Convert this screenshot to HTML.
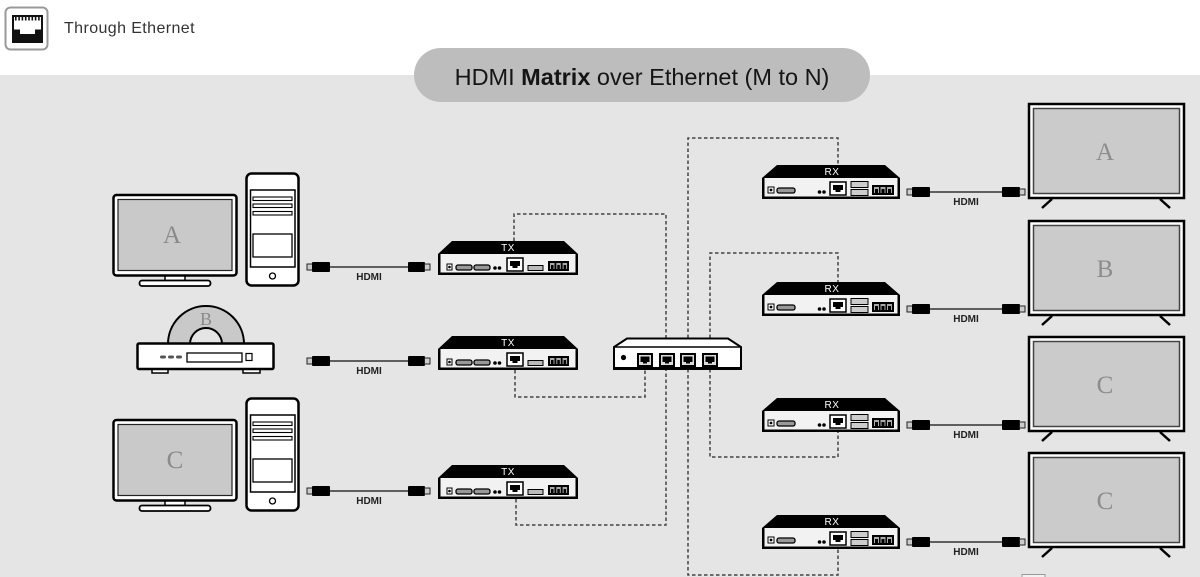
<!DOCTYPE html>
<html><head><meta charset="utf-8"><style>
html,body{margin:0;padding:0;background:#fff;}
svg{display:block;}
</style></head><body>
<svg width="1200" height="577" viewBox="0 0 1200 577" xmlns="http://www.w3.org/2000/svg" xmlns:xlink="http://www.w3.org/1999/xlink" font-family="Liberation Sans, Arial, sans-serif">
<defs>
 <g id="tx">
  <path d="M14,0 H126 L140,13 V34 H0 V13 Z" fill="#000"/>
  <rect x="2.5" y="13" width="135" height="18.5" fill="#f2f2f2"/>
  <rect x="9" y="23" width="5" height="6" fill="#fff" stroke="#000" stroke-width="1"/>
  <circle cx="11.5" cy="26" r="1.3" fill="#000"/>
  <rect x="18" y="24" width="16" height="5" rx="2" fill="#999" stroke="#000" stroke-width="1.3"/>
  <rect x="36" y="24" width="16" height="5" rx="2" fill="#999" stroke="#000" stroke-width="1.3"/>
  <circle cx="57" cy="27" r="1.8" fill="#000"/>
  <circle cx="61.5" cy="27" r="1.8" fill="#000"/>
  <rect x="69" y="17" width="16" height="13" fill="#fff" stroke="#000" stroke-width="1.5"/>
  <path d="M72,20 H82 V25 H79.5 V27 H74.5 V25 H72 Z" fill="#000"/>
  <rect x="90" y="24.5" width="15" height="5" fill="#bbb" stroke="#000" stroke-width="1"/>
  <rect x="110" y="20" width="21" height="10" fill="#000"/>
  <rect x="112" y="22" width="4.5" height="6" fill="#aaa"/>
  <rect x="118.3" y="22" width="4.5" height="6" fill="#aaa"/>
  <rect x="124.6" y="22" width="4.5" height="6" fill="#aaa"/>
  <rect x="113" y="24" width="2.5" height="4" fill="#000"/>
  <rect x="119.3" y="24" width="2.5" height="4" fill="#000"/>
  <rect x="125.6" y="24" width="2.5" height="4" fill="#000"/>
 </g>
 <g id="rx">
  <path d="M15,0 H123 L138,13 V34 H0 V13 Z" fill="#000"/>
  <rect x="2.5" y="13" width="133" height="18.5" fill="#f2f2f2"/>
  <rect x="6" y="22" width="6" height="6" fill="#fff" stroke="#000" stroke-width="1"/>
  <circle cx="9" cy="25" r="1.4" fill="#000"/>
  <rect x="15" y="23" width="18" height="5" rx="2" fill="#999" stroke="#000" stroke-width="1.3"/>
  <circle cx="57.5" cy="27" r="1.8" fill="#000"/>
  <circle cx="62" cy="27" r="1.8" fill="#000"/>
  <rect x="68" y="17" width="16" height="13" fill="#fff" stroke="#000" stroke-width="1.5"/>
  <path d="M71,20 H81 V25 H78.5 V27 H73.5 V25 H71 Z" fill="#000"/>
  <rect x="89" y="16.5" width="17" height="6" fill="#ccc" stroke="#000" stroke-width="1"/>
  <rect x="89" y="24.5" width="17" height="6" fill="#ccc" stroke="#000" stroke-width="1"/>
  <rect x="110" y="20" width="22" height="10" fill="#000"/>
  <rect x="112" y="22" width="5" height="6" fill="#aaa"/>
  <rect x="118.5" y="22" width="5" height="6" fill="#aaa"/>
  <rect x="125" y="22" width="5" height="6" fill="#aaa"/>
  <rect x="113" y="24" width="3" height="4" fill="#000"/>
  <rect x="119.5" y="24" width="3" height="4" fill="#000"/>
  <rect x="126" y="24" width="3" height="4" fill="#000"/>
 </g>
 <g id="tv">
  <rect x="1029" y="0" width="155" height="94" fill="#fff" stroke="#000" stroke-width="2.5"/>
  <rect x="1033.5" y="4.5" width="146" height="85" fill="#cbcbcb" stroke="#444" stroke-width="1.5"/>
  <line x1="1052" y1="95" x2="1042" y2="104" stroke="#000" stroke-width="2.5"/>
  <line x1="1160" y1="95" x2="1170" y2="104" stroke="#000" stroke-width="2.5"/>
 </g>
 <g id="mon">
  <rect x="113.5" y="195" width="123" height="80.5" rx="3" fill="#fff" stroke="#000" stroke-width="2.5"/>
  <rect x="118" y="199.5" width="114" height="71" fill="#c9c9c9" stroke="#222" stroke-width="1.2"/>
  <rect x="165" y="276" width="20" height="4.5" fill="#fff" stroke="#000" stroke-width="1.5"/>
  <rect x="139.5" y="280.5" width="71" height="5.5" rx="2.5" fill="#fff" stroke="#000" stroke-width="1.8"/>
 </g>
 <g id="pc">
  <rect x="246.5" y="173.5" width="52" height="112" rx="5" fill="#fff" stroke="#000" stroke-width="2.5"/>
  <rect x="250.5" y="190" width="44.5" height="77" fill="none" stroke="#000" stroke-width="1.5"/>
  <rect x="253" y="197" width="39" height="3.5" fill="#fff" stroke="#000" stroke-width="1.1"/>
  <rect x="253" y="204" width="39" height="3.5" fill="#fff" stroke="#000" stroke-width="1.1"/>
  <rect x="253" y="211.5" width="39" height="3.5" fill="#fff" stroke="#000" stroke-width="1.1"/>
  <rect x="253" y="234" width="39" height="23" fill="#fff" stroke="#000" stroke-width="1.3"/>
  <circle cx="272.5" cy="276" r="3" fill="#fff" stroke="#000" stroke-width="1.3"/>
 </g>
 <g id="cabL">
  <rect x="307" y="-3" width="5.5" height="6" fill="#ccc" stroke="#222" stroke-width="1"/>
  <rect x="312" y="-5" width="18" height="10" rx="1" fill="#000"/>
  <line x1="330" y1="0" x2="408" y2="0" stroke="#333" stroke-width="1.5"/>
  <rect x="408" y="-5" width="17" height="10" rx="1" fill="#000"/>
  <rect x="424.5" y="-3" width="5.5" height="6" fill="#ccc" stroke="#222" stroke-width="1"/>
 </g>
 <g id="cabR">
  <rect x="907" y="-3" width="5.5" height="6" fill="#ccc" stroke="#222" stroke-width="1"/>
  <rect x="912" y="-5" width="18" height="10" rx="1" fill="#000"/>
  <line x1="930" y1="0" x2="1002" y2="0" stroke="#333" stroke-width="1.5"/>
  <rect x="1002" y="-5" width="18" height="10" rx="1" fill="#000"/>
  <rect x="1019.5" y="-3" width="5.5" height="6" fill="#ccc" stroke="#222" stroke-width="1"/>
 </g>
 <g id="port">
  <rect x="0" y="0" width="16" height="14" fill="#000"/>
  <rect x="2" y="2" width="12" height="10" fill="#ddd"/>
  <path d="M3.5,3.5 H12.5 V9 H10 V10.5 H6 V9 H3.5 Z" fill="#000"/>
 </g>
</defs>

<!-- background -->
<rect x="0" y="0" width="1200" height="577" fill="#fff"/>
<rect x="0" y="75" width="1200" height="502" fill="#e5e5e5"/>

<!-- header icon -->
<rect x="5.5" y="7.5" width="42" height="42" rx="5" fill="#fff" stroke="#999" stroke-width="2"/>
<rect x="12" y="15" width="31" height="28" fill="#111"/>
<rect x="14" y="17" width="27" height="12.5" fill="#fff"/>
<rect x="20" y="29" width="15" height="5" fill="#fff"/>
<g fill="#111">
 <rect x="15" y="17" width="1.6" height="3.5"/>
 <rect x="18.3" y="17" width="1.6" height="3.5"/>
 <rect x="21.6" y="17" width="1.6" height="3.5"/>
 <rect x="24.9" y="17" width="1.6" height="3.5"/>
 <rect x="28.2" y="17" width="1.6" height="3.5"/>
 <rect x="31.5" y="17" width="1.6" height="3.5"/>
 <rect x="34.8" y="17" width="1.6" height="3.5"/>
 <rect x="38.1" y="17" width="1.6" height="3.5"/>
</g>
<text x="64" y="33" font-size="16" letter-spacing="0.4" fill="#333">Through Ethernet</text>

<!-- title pill -->
<rect x="414" y="48" width="456" height="54" rx="27" fill="#bdbdbd"/>
<text x="642" y="85" font-size="23.5" fill="#151515" text-anchor="middle">HDMI <tspan font-weight="bold">Matrix</tspan> over Ethernet (M to N)</text>

<!-- dotted connectors -->
<g fill="none" stroke="#444" stroke-width="1.5" stroke-dasharray="3.5 2.5">
 <path d="M514,241 V214 H666 V338"/>
 <path d="M515,370 V397 H645 V369"/>
 <path d="M516,499 V525 H666 V369"/>
 <path d="M688,338 V138 H838 V165"/>
 <path d="M710,338 V253 H838 V282"/>
 <path d="M710,369 V457 H838 V432"/>
 <path d="M688,369 V575 H838 V549"/>
</g>

<!-- source A -->
<use xlink:href="#mon"/>
<text x="172" y="243" font-family="Liberation Serif, serif" font-size="25" fill="#8a8a8a" text-anchor="middle">A</text>
<use xlink:href="#pc"/>

<!-- source B: disc player -->
<path d="M168,344 A38,38 0 0 1 244,344 Z" fill="#c9c9c9" stroke="#000" stroke-width="2"/>
<path d="M190,344 A16,16 0 0 1 222,344 Z" fill="#e5e5e5" stroke="#000" stroke-width="2"/>
<text x="206" y="325" font-family="Liberation Serif, serif" font-size="18" fill="#8a8a8a" text-anchor="middle">B</text>
<rect x="152" y="367" width="16" height="6" fill="#fff" stroke="#000" stroke-width="1.5"/>
<rect x="243" y="367" width="17" height="6" fill="#fff" stroke="#000" stroke-width="1.5"/>
<rect x="137.5" y="343.5" width="136" height="25.5" rx="1.5" fill="#fff" stroke="#000" stroke-width="2.5"/>
<rect x="160" y="355.5" width="6" height="3" rx="1.5" fill="#555"/>
<rect x="168" y="355.5" width="6" height="3" rx="1.5" fill="#555"/>
<rect x="176" y="355.5" width="6" height="3" rx="1.5" fill="#555"/>
<rect x="187" y="353" width="55" height="9" fill="#fff" stroke="#000" stroke-width="1.3"/>
<rect x="246" y="353.5" width="6" height="7" fill="#fff" stroke="#000" stroke-width="1.2"/>

<!-- source C -->
<g transform="translate(0,225)">
 <use xlink:href="#mon"/>
 <use xlink:href="#pc"/>
</g>
<text x="175" y="468" font-family="Liberation Serif, serif" font-size="25" fill="#8a8a8a" text-anchor="middle">C</text>

<!-- left cables -->
<use xlink:href="#cabL" transform="translate(0,267)"/>
<use xlink:href="#cabL" transform="translate(0,361)"/>
<use xlink:href="#cabL" transform="translate(0,491)"/>
<g font-size="10" font-weight="bold" fill="#222" text-anchor="middle">
 <text x="369" y="280">HDMI</text>
 <text x="369" y="374">HDMI</text>
 <text x="369" y="504">HDMI</text>
</g>

<!-- TX boxes -->
<use xlink:href="#tx" transform="translate(438,241)"/>
<use xlink:href="#tx" transform="translate(438,336)"/>
<use xlink:href="#tx" transform="translate(438,465)"/>
<g font-size="10" fill="#fff" text-anchor="middle" letter-spacing="0.5">
 <text x="508" y="251">TX</text>
 <text x="508" y="346">TX</text>
 <text x="508" y="475">TX</text>
</g>

<!-- switch -->
<path d="M627,338.5 H728 L741,347 V369 H614 V347 Z" fill="#fff" stroke="#000" stroke-width="2"/>
<line x1="614" y1="347" x2="741" y2="347" stroke="#000" stroke-width="1.5"/>
<rect x="613" y="367" width="129" height="3" fill="#000"/>
<circle cx="623.5" cy="357.5" r="2.6" fill="#000"/>
<use xlink:href="#port" transform="translate(637,353)"/>
<use xlink:href="#port" transform="translate(659,353)"/>
<use xlink:href="#port" transform="translate(680,353)"/>
<use xlink:href="#port" transform="translate(702,353)"/>

<!-- RX boxes -->
<use xlink:href="#rx" transform="translate(762,165)"/>
<use xlink:href="#rx" transform="translate(762,282)"/>
<use xlink:href="#rx" transform="translate(762,398)"/>
<use xlink:href="#rx" transform="translate(762,515)"/>
<g font-size="10" fill="#fff" text-anchor="middle" letter-spacing="0.5">
 <text x="832" y="175">RX</text>
 <text x="832" y="292">RX</text>
 <text x="832" y="408">RX</text>
 <text x="832" y="525">RX</text>
</g>

<!-- right cables -->
<use xlink:href="#cabR" transform="translate(0,192)"/>
<use xlink:href="#cabR" transform="translate(0,309)"/>
<use xlink:href="#cabR" transform="translate(0,425)"/>
<use xlink:href="#cabR" transform="translate(0,542)"/>
<g font-size="10" font-weight="bold" fill="#222" text-anchor="middle">
 <text x="966" y="205">HDMI</text>
 <text x="966" y="322">HDMI</text>
 <text x="966" y="438">HDMI</text>
 <text x="966" y="555">HDMI</text>
</g>

<!-- TVs -->
<use xlink:href="#tv" transform="translate(0,104)"/>
<use xlink:href="#tv" transform="translate(0,221)"/>
<use xlink:href="#tv" transform="translate(0,337)"/>
<use xlink:href="#tv" transform="translate(0,453)"/>
<g font-family="Liberation Serif, serif" font-size="25" fill="#8c8c8c" text-anchor="middle">
 <text x="1105" y="160">A</text>
 <text x="1105" y="277">B</text>
 <text x="1105" y="393">C</text>
 <text x="1105" y="509">C</text>
</g>

<rect x="1022" y="574.5" width="23" height="6" fill="#f2f2f2" stroke="#999" stroke-width="1"/>
</svg>
</body></html>
